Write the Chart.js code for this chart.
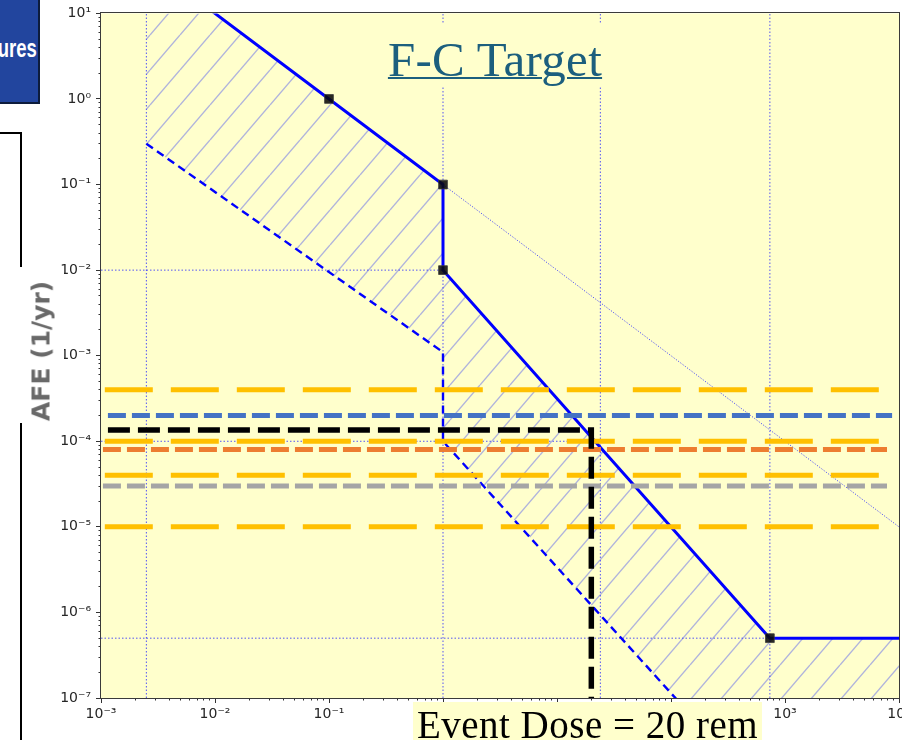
<!DOCTYPE html>
<html>
<head>
<meta charset="utf-8">
<title>F-C Target</title>
<script src="https://cdn.jsdelivr.net/npm/chart.js@4.4.1/dist/chart.umd.min.js"></script>
<style>
  html, body { margin: 0; padding: 0; width: 902px; height: 740px; overflow: hidden; background: #fff; }
  #wrap { position: absolute; left: 0; top: 0; width: 960px; height: 740px; }
  #chart { position: absolute; left: 0; top: 0; }
  .navbox { position: absolute; left: -6px; top: -6px; width: 46px; height: 110px; box-sizing: border-box;
            background: #22459e; border: 2px solid #0d1c3c; overflow: hidden; }
  .navbox span { position: absolute; right: 1px; top: 38px; color: #fff; line-height: 1;
                 transform: scaleX(0.74); transform-origin: right center;
                 font: bold 25px 'Liberation Sans', sans-serif; }
  .sidebox { position: absolute; left: -10px; top: 132px; width: 32px; height: 700px; box-sizing: border-box;
             border: 2px solid #000; background: #fff; }
  .ylabel { position: absolute; left: 14px; top: 267px; width: 50px; height: 156px; background: #fff; }
  .ylabel span { position: absolute; left: 27px; top: 84px; white-space: nowrap; line-height: 1;
                 transform: translate(-50%, -50%) rotate(-90deg); color: #696969; filter: blur(0.5px);
                 font: bold 25px 'DejaVu Sans', sans-serif; }
  .title { position: absolute; left: 380px; top: 24px; width: 230px; height: 62px; background: #FFFFCC; }
  .title span { position: absolute; left: 0; right: 0; top: 7px; text-align: center; line-height: 1;
                font: 49px 'Liberation Serif', 'DejaVu Serif', serif; color: #1c5f7e; text-decoration: underline;
                text-decoration-thickness: 2px; letter-spacing: 0.3px; }
  .dose { position: absolute; left: 413px; top: 702px; width: 349px; height: 40px; background: #FFFFCC; }
  .dose span { position: absolute; left: 0; right: 0; top: 0px; text-align: center; line-height: 1;
               font: 39px 'Liberation Serif', 'DejaVu Serif', serif; color: #000; white-space: nowrap;
               letter-spacing: 0.5px; }
</style>
</head>
<body>
<div id="wrap"><canvas id="chart" width="960" height="740"></canvas></div>
<div class="navbox"><span>ures</span></div>
<div class="sidebox"></div>
<div class="ylabel"><span>AFE (1/yr)</span></div>
<div class="title"><span>F-C Target</span></div>
<div class="dose"><span>Event Dose = 20 rem</span></div>
<script>
// Axis decades (exponents of ten) for the tick marks and labels
const xDecades = [-3, -2, -1, 0, 1, 2, 3, 4];
const yDecades = [-7, -6, -5, -4, -3, -2, -1, 0, 1];

// F-C target curve (solid) : dose in rem vs. annual frequency of exceedance
const upperDose = [0.0025, 0.1, 1, 1, 736.8, 1e4];
const upperAFE  = [40, 1, 0.1, 0.01, 5e-7, 5e-7];

// Lower bound of the band (dashed)
const lowerDose = [0.0025, 1, 1, 1e4];
const lowerAFE  = [0.3, 1.1e-3, 1e-4, 1.3e-10];

// Corner points of the target curve
const cornerDose = [0.1, 1, 1, 736.8];
const cornerAFE  = [1, 0.1, 0.01, 5e-7];

// Continuation of the upper slope
const trendDose = [1, 1e4];
const trendAFE  = [0.1, 1e-5];

// Dotted guides
const guideDose = [0.0025, 1, 24, 736.8];
const guideAFE  = [0.01, 1e-4, 5e-7];
const guideAFEEnd = [1, 24, 736.8];

// Frequency levels
const goldAFE   = [4e-4, 1e-4, 4e-5, 1e-5];
const goldSpan  = [1.08e-3, 7.5e3];
const blueAFE   = 2e-4;
const blueSpan  = [1.15e-3, 8.7e3];
const orangeAFE = 8e-5;
const greySpan  = [1.04e-3, 7.85e3];
const greyAFE   = 3e-5;

// Event
const eventDose = 20;
const eventAFE  = 1.35e-4;
const eventStart = 1.15e-3;

const X_MIN = 1e-3, X_MAX = 1e4, Y_MIN = 1e-7, Y_MAX = 10;

const SUP = {'-': '\u207B', '0': '\u2070', '1': '\u00B9', '2': '\u00B2', '3': '\u00B3',
             '4': '\u2074', '5': '\u2075', '6': '\u2076', '7': '\u2077', '8': '\u2078', '9': '\u2079'};
function pow10Label(v) {
  const e = Math.round(Math.log10(v));
  return '10' + String(e).split('').map(c => SUP[c]).join('');
}
function decadeTicks(decs) {
  const t = [];
  decs.forEach((e, i) => {
    for (let m = 1; m <= 9; m++) {
      if (i === decs.length - 1 && m > 1) break;
      t.push({ value: m * Math.pow(10, e), major: m === 1 });
    }
  });
  return t;
}
const pts = (xs, ys) => xs.map((x, i) => ({ x, y: ys[i] }));
const hLine = (y, span) => [{ x: span[0], y }, { x: span[1], y }];
const vLine = (x, y0, y1) => [{ x, y: y0 }, { x, y: y1 }];

function hatchPattern() {
  const w = 30, h = 35;
  const c = document.createElement('canvas');
  c.width = w; c.height = h;
  const g = c.getContext('2d');
  g.strokeStyle = '#b0b4dc';
  g.lineWidth = 1.4;
  for (const dx of [-w, 0, w]) {
    g.beginPath(); g.moveTo(dx, h); g.lineTo(dx + w, 0); g.stroke();
  }
  return g.createPattern(c, 'repeat');
}

const guide = { borderColor: 'rgba(40,40,255,0.8)', borderWidth: 1, borderDash: [1.5, 2],
                pointRadius: 0, fill: false, order: 9 };

const datasets = [];
datasets.push({ label: 'event', data: [{ x: eventStart, y: eventAFE }, { x: eventDose, y: eventAFE }, { x: eventDose, y: Y_MIN }],
  borderColor: '#000', borderWidth: 5.5, borderDash: [22, 8], pointRadius: 0, order: 0 });
datasets.push({ label: 'blue', data: hLine(blueAFE, blueSpan), borderColor: '#4472C4', borderWidth: 5,
  borderDash: [18, 6], pointRadius: 0, order: 1 });
datasets.push({ label: 'orange', data: hLine(orangeAFE, greySpan), borderColor: '#ED7D31', borderWidth: 5,
  borderDash: [18, 6], pointRadius: 0, order: 1 });
datasets.push({ label: 'grey', data: hLine(greyAFE, greySpan), borderColor: '#A5A5A5', borderWidth: 5,
  borderDash: [18, 6], pointRadius: 0, order: 1 });
goldAFE.forEach(v => datasets.push({ label: 'gold', data: hLine(v, goldSpan), borderColor: '#FFC000',
  borderWidth: 5, borderDash: [48, 18], pointRadius: 0, order: 2 }));
datasets.push({ label: 'corners', data: pts(cornerDose, cornerAFE), showLine: false, pointStyle: 'rect',
  pointRadius: 6.2, pointBackgroundColor: 'rgba(10,10,10,0.88)', pointBorderColor: 'rgba(60,60,60,0.8)',
  pointBorderWidth: 1, order: 3 });
const upperIndex = datasets.length;
datasets.push({ label: 'target', data: pts(upperDose, upperAFE), borderColor: '#0000ff', borderWidth: 3,
  pointRadius: 0, order: 4 });
const lowerIndex = datasets.length;
datasets.push({ label: 'lower', data: pts(lowerDose, lowerAFE), borderColor: '#0000ff', borderWidth: 2.4,
  borderDash: [8, 5], pointRadius: 0, order: 5 });
datasets.push(Object.assign({ label: 'trend', data: pts(trendDose, trendAFE) }, guide, { borderDash: [1.2, 1.6] }));
guideDose.forEach(x => datasets.push(Object.assign({ label: 'gv', data: vLine(x, Y_MIN, Y_MAX) }, guide)));
guideAFE.forEach((y, i) => datasets.push(Object.assign({ label: 'gh', data: hLine(y, [X_MIN, guideAFEEnd[i]]) }, guide)));

datasets[upperIndex].fill = { target: lowerIndex };
datasets[upperIndex].backgroundColor = hatchPattern();

const framePlugin = {
  id: 'frame',
  beforeDraw(chart) {
    const { ctx, chartArea: a } = chart;
    ctx.save();
    ctx.fillStyle = '#FFFFCC';
    ctx.fillRect(a.left, a.top, a.width, a.height);
    ctx.restore();
  },
  afterDatasetsDraw(chart) {
    const { ctx, chartArea: a } = chart;
    ctx.save();
    ctx.strokeStyle = '#3a3a3a';
    ctx.lineWidth = 1;
    ctx.strokeRect(Math.round(a.left) - 0.5, Math.round(a.top) - 0.5, Math.round(a.width) + 1, Math.round(a.height) + 1);
    ctx.restore();
  }
};

const tickFont = { family: 'DejaVu Sans', size: 14 };
new Chart(document.getElementById('chart'), {
  type: 'line',
  data: { datasets },
  plugins: [framePlugin],
  options: {
    responsive: false,
    devicePixelRatio: 1,
    animation: false,
    events: [],
    layout: { padding: { left: 0, top: 13, right: 61, bottom: 0 } },
    elements: { line: { tension: 0 }, point: { radius: 0 } },
    plugins: { legend: { display: false }, tooltip: { enabled: false }, filler: { drawTime: 'beforeDatasetsDraw' } },
    scales: {
      x: {
        type: 'logarithmic', min: X_MIN, max: X_MAX, position: 'bottom',
        afterBuildTicks: s => { s.ticks = decadeTicks(xDecades); },
        afterFit: s => { s.height = 42; },
        border: { display: false },
        grid: { drawOnChartArea: false, drawTicks: true, tickLength: 5, tickColor: '#333', tickWidth: 1,
                tickBorderDash: c => (c.tick && c.tick.major) ? [] : [2.5, 20] },
        ticks: { autoSkip: false, maxRotation: 0, padding: 3, color: '#262626', font: tickFont,
                 callback: (v, i, t) => t[i].major ? pow10Label(v) : '' }
      },
      y: {
        type: 'logarithmic', min: Y_MIN, max: Y_MAX, position: 'left',
        afterBuildTicks: s => { s.ticks = decadeTicks(yDecades); },
        afterFit: s => { s.width = 101; },
        border: { display: false },
        grid: { drawOnChartArea: false, drawTicks: true, tickLength: 5, tickColor: '#333', tickWidth: 1,
                tickBorderDash: c => (c.tick && c.tick.major) ? [] : [0, 2.5, 2.5, 20] },
        ticks: { autoSkip: false, padding: 5, color: '#262626', font: tickFont,
                 callback: (v, i, t) => t[i].major ? pow10Label(v) : '' }
      }
    }
  }
});
</script>
</body>
</html>
